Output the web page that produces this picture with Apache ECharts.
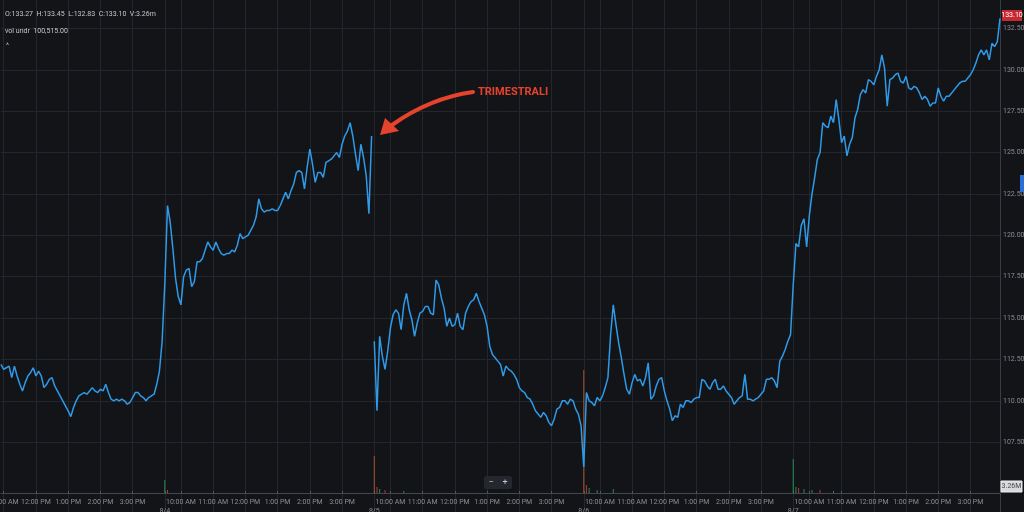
<!DOCTYPE html>
<html>
<head>
<meta charset="utf-8">
<script src="https://cdn.jsdelivr.net/npm/echarts@6/dist/echarts.min.js"></script>
<style>
html,body{margin:0;padding:0;background:#131418;}
#c{width:1024px;height:512px;}
</style>
</head>
<body>
<div id="c"></div>
<script>
// ---- data ----
const days = ['8/3', '8/4', '8/5', '8/6', '8/7'];
const hourLabels = ['10:00 AM', '11:00 AM', '12:00 PM', '1:00 PM', '2:00 PM', '3:00 PM'];
const yTickMin = 107.5, yTickMax = 132.5;

// 5-minute closes, 8/3 from 10:55, other days 9:30..15:55
const d83 = [
  112.2,111.9,112.0,112.1,111.4,112.1,111.5,111.0,110.6,111.1,
  111.5,111.7,112.0,111.5,111.8,111.5,110.8,111.0,111.3,111.4,
  110.9,110.6,110.3,110.0,109.7,109.4,109.05,109.6,110.0,110.3,
  110.4,110.5,110.4,110.6,110.8,110.6,110.5,110.7,110.6,111.0,
  110.5,110.1,110.0,110.1,110.0,110.1,110.0,109.8,109.9,110.2,
  110.5,110.5,110.3,110.2,110.0,110.2,110.3,110.4,111.0,111.8,
  113.6
];
const d84 = [
  117.1,121.8,120.8,119.2,117.4,116.3,115.8,117.5,117.9,118.0,
  116.9,117.2,118.4,118.4,118.6,119.1,119.6,119.3,119.1,119.6,
  119.2,118.9,118.8,118.9,118.9,119.1,119.0,119.4,120.1,119.8,
  119.9,120.0,120.3,120.6,121.1,122.2,121.6,121.4,121.5,121.5,
  121.6,121.5,121.5,121.8,122.2,122.6,122.2,122.7,123.1,123.8,
  123.9,123.8,122.8,124.1,125.2,124.3,123.2,123.8,123.8,123.5,
  124.4,124.5,124.6,124.8,125.0,124.7,125.5,126.0,126.3,126.8,
  126.0,124.9,123.9,125.5,124.7,123.6,121.3,126.0
];
const d85 = [
  113.6,109.4,113.9,112.7,111.9,113.0,114.4,115.2,115.5,115.3,
  114.3,115.8,116.5,115.5,114.9,113.9,114.7,115.3,115.4,115.7,
  115.7,115.3,115.2,117.3,117.0,116.2,115.6,114.5,115.0,114.5,
  114.6,115.3,114.5,114.3,115.3,115.7,116.0,116.1,116.5,116.0,
  115.6,115.2,114.5,113.3,112.8,112.6,112.4,112.2,111.5,112.1,
  111.9,111.8,111.6,111.3,110.8,110.6,110.5,110.2,110.1,109.8,
  109.4,109.2,109.0,109.3,109.1,108.7,108.5,108.9,109.5,109.6,
  110.0,110.0,109.8,110.1,110.0,109.5,109.2,108.5
];
const d86 = [
  106.0,110.5,110.0,109.9,109.7,110.2,110.0,110.3,110.8,111.4,
  114.0,115.8,114.6,113.5,112.6,111.6,110.7,110.4,111.1,111.6,
  111.2,111.3,110.9,111.4,112.3,110.1,110.3,110.9,111.3,111.4,
  110.6,110.0,109.5,108.8,109.1,109.0,109.8,109.6,110.0,110.0,
  109.9,110.1,110.2,110.2,111.3,111.2,110.9,110.7,111.1,111.3,
  110.7,110.7,110.9,110.6,110.4,110.2,109.8,110.0,110.2,110.3,
  111.6,110.1,110.1,110.0,110.1,110.2,110.4,110.6,111.3,111.3,
  111.4,111.2,110.8,112.4,112.7,113.1,113.6,114.0
];
const d87 = [
  117.0,119.5,119.3,120.6,121.0,119.3,121.2,122.5,123.5,124.6,
  125.0,126.8,126.6,126.5,127.2,126.8,128.2,127.0,125.6,126.0,
  124.8,125.5,125.9,127.1,127.6,128.5,128.8,128.6,129.4,129.3,
  129.1,129.6,130.0,130.9,130.1,127.8,129.4,129.5,129.7,129.8,
  129.3,129.2,129.6,128.9,128.8,129.0,128.9,128.6,128.2,128.4,
  128.2,127.8,128.0,128.0,128.9,128.4,128.1,128.4,128.4,128.6,
  128.8,129.0,129.2,129.3,129.3,129.5,129.7,130.0,130.4,130.9,
  131.2,130.9,131.2,130.6,131.6,131.4,131.7,133.1
];

// volume (visible bars only): category index, height, direction
const volIndex = [61, 62, 139, 140, 141, 143, 150, 217, 218, 219, 222, 228, 295, 296, 297, 299, 302, 305, 310];
const volValue = [13, 3, 37, 6, 4, 3, 2, 123, 8, 5, 3, 4, 34, 6, 5, 4, 3, 3, 2];
const volUp    = [1, 0, 0, 0, 1, 0, 1, 0, 0, 1, 1, 1, 1, 1, 0, 1, 1, 0, 1];

const headerLine1 = 'O:133.27  H:133.45  L:132.83  C:133.10  V:3.26m';
const headerLine2 = 'vol undr  100,515.00';
const lastClose = '133.10';
const lastVolume = '3.26M';
const annotation = 'TRIMESTRALI';

// ---- build categories ----
const categories = [];
days.forEach(function (d, di) {
  for (let m = 570; m <= 955; m += 5) {
    if (di === 0 && m < 655) continue;
    const h = Math.floor(m / 60), mm = m % 60;
    categories.push(d + ' ' + h + ':' + (mm < 10 ? '0' + mm : mm));
  }
});
const N = categories.length;
const firstPart = d83.concat(d84);
const secondPart = d85.concat(d86, d87);
const price1 = firstPart.concat(new Array(N - firstPart.length).fill(null));
const price2 = new Array(N - secondPart.length).fill(null).concat(secondPart);
const volData = new Array(N).fill(null);
volIndex.forEach(function (ix, k) {
  volData[ix] = {
    value: volValue[k],
    itemStyle: { color: ix === 217 || ix === 139 ? '#c9602e' : (volUp[k] ? '#2fa866' : '#d9463c'), opacity: 0.8 }
  };
});

function parts(v) {
  const sp = v.split(' ');
  const hm = sp[1].split(':');
  return { day: sp[0], h: +hm[0], m: +hm[1] };
}
function isMark(idx, v) {
  const p = parts(v);
  if (p.m === 0) return true;
  if (p.h === 9 && p.m === 30 && p.day !== days[0]) return true;
  return false;
}
function labelFmt(v) {
  const p = parts(v);
  if (p.h === 9 && p.m === 30) return '\n' + p.day;
  if (p.m === 0) return hourLabels[p.h - 10] || '';
  return '';
}

const gridColors = ['rgba(0,0,0,0)', 'rgba(0,0,0,0)'];
for (let k = 0; k < 12; k++) gridColors.push('#23262c');

const FONT = 'Roboto, "Noto Sans", sans-serif';
const chart = echarts.init(document.getElementById('c'), null, { renderer: 'canvas' });
const option = {
  backgroundColor: '#131418',
  animation: false,
  textStyle: { fontFamily: FONT },
  grid: [
    { left: 1, right: 24, top: -13, bottom: -13, containLabel: false, outerBoundsMode: 'none' },
    { left: 1, right: 24, top: 300, bottom: 19, containLabel: false, outerBoundsMode: 'none' }
  ],
  xAxis: [
    {
      type: 'category', gridIndex: 0, data: categories, boundaryGap: false,
      axisLine: { show: false }, axisTick: { show: false }, axisLabel: { show: false },
      splitLine: { show: true, interval: isMark, lineStyle: { color: '#23262c', width: 1 } }
    },
    {
      type: 'category', gridIndex: 1, data: categories, boundaryGap: false,
      axisLine: { show: true, lineStyle: { color: '#44474f', width: 1 } },
      axisTick: { show: true, interval: isMark, length: 2, inside: true, lineStyle: { color: '#55585f' } },
      axisLabel: {
        interval: isMark, formatter: labelFmt, color: '#8a8d95', fontSize: 7,
        margin: 5, lineHeight: 9, fontFamily: FONT
      },
      splitLine: { show: false }
    }
  ],
  yAxis: [
    {
      type: 'value', gridIndex: 0, position: 'right', min: 102.5, max: 135, interval: 2.5,
      axisLine: { show: true, lineStyle: { color: '#3a3d44' } },
      axisTick: { show: false },
      axisLabel: {
        color: '#8a8d95', fontSize: 7, margin: 3, fontFamily: FONT,
        formatter: function (v) { return (v >= yTickMin - 0.01 && v <= yTickMax + 0.01) ? v.toFixed(2) : ''; }
      },
      splitLine: { show: true, lineStyle: { color: gridColors, width: 1 } }
    },
    { type: 'value', gridIndex: 1, min: 0, max: 193, show: false, splitLine: { show: false } }
  ],
  series: [
    {
      type: 'line', xAxisIndex: 0, yAxisIndex: 0, data: price1, showSymbol: false, symbol: 'none',
      connectNulls: false, lineStyle: { color: '#2f9ae8', width: 1.5 }, z: 5
    },
    {
      type: 'line', xAxisIndex: 0, yAxisIndex: 0, data: price2, showSymbol: false, symbol: 'none',
      connectNulls: false, lineStyle: { color: '#2f9ae8', width: 1.5 }, z: 5
    },
    {
      type: 'bar', xAxisIndex: 1, yAxisIndex: 1, data: volData, barWidth: 1, z: 3
    }
  ]
};
chart.setOption(option);

const lastPt = chart.convertToPixel({ seriesIndex: 1 }, [N - 1, parseFloat(lastClose)]);
const boxY = Math.round(lastPt[1]) - 8;

chart.setOption({
  graphic: [
    { type: 'text', left: 5, top: 11, style: { text: headerLine1, fill: '#c4c6cc', font: '7px ' + FONT } },
    { type: 'text', left: 5, top: 28, style: { text: headerLine2, fill: '#c4c6cc', font: '7px ' + FONT } },
    { type: 'text', left: 6, top: 43, style: { text: '^', fill: '#c4c6cc', font: '7px ' + FONT } },
    // last price box
    { type: 'rect', shape: { x: 1002, y: boxY, width: 20, height: 11 }, style: { fill: '#c8282f' }, z: 20 },
    { type: 'text', x: 1012, y: boxY + 5.5, style: { text: lastClose, fill: '#ffffff', font: '7px ' + FONT, align: 'center', verticalAlign: 'middle' }, z: 21 },
    // last volume box
    { type: 'rect', shape: { x: 1001, y: 481, width: 21, height: 11 }, style: { fill: '#d7d9dd', stroke: '#eeeeee' }, z: 20 },
    { type: 'text', x: 1011.5, y: 486.5, style: { text: lastVolume, fill: '#45484f', font: '7px ' + FONT, align: 'center', verticalAlign: 'middle' }, z: 21 },
    // blue side marker
    { type: 'rect', shape: { x: 1020, y: 175, width: 4, height: 17 }, style: { fill: '#2a6fd8' }, z: 20 },
    // zoom controls
    { type: 'rect', shape: { x: 484, y: 476, width: 28, height: 13, r: 2 }, style: { fill: '#24272d' }, z: 20 },
    { type: 'text', x: 498, y: 482.5, style: { text: '−    +', fill: '#c8cacf', font: '9px ' + FONT, align: 'center', verticalAlign: 'middle' }, z: 21 },
    // annotation
    { type: 'text', x: 478, y: 92.5, style: { text: annotation, fill: '#e6432d', font: 'bold 11px ' + FONT, verticalAlign: 'middle' }, z: 30 },
    {
      type: 'bezierCurve', shape: { x1: 473, y1: 92, cpx1: 430, cpy1: 98, x2: 392, y2: 125 },
      style: { stroke: '#e6432d', lineWidth: 4, fill: null, lineCap: 'round' }, z: 30
    },
    {
      type: 'polygon', shape: { points: [[380, 135], [385, 118], [399, 131]] },
      style: { fill: '#e6432d' }, z: 30
    }
  ]
});
</script>
</body>
</html>
